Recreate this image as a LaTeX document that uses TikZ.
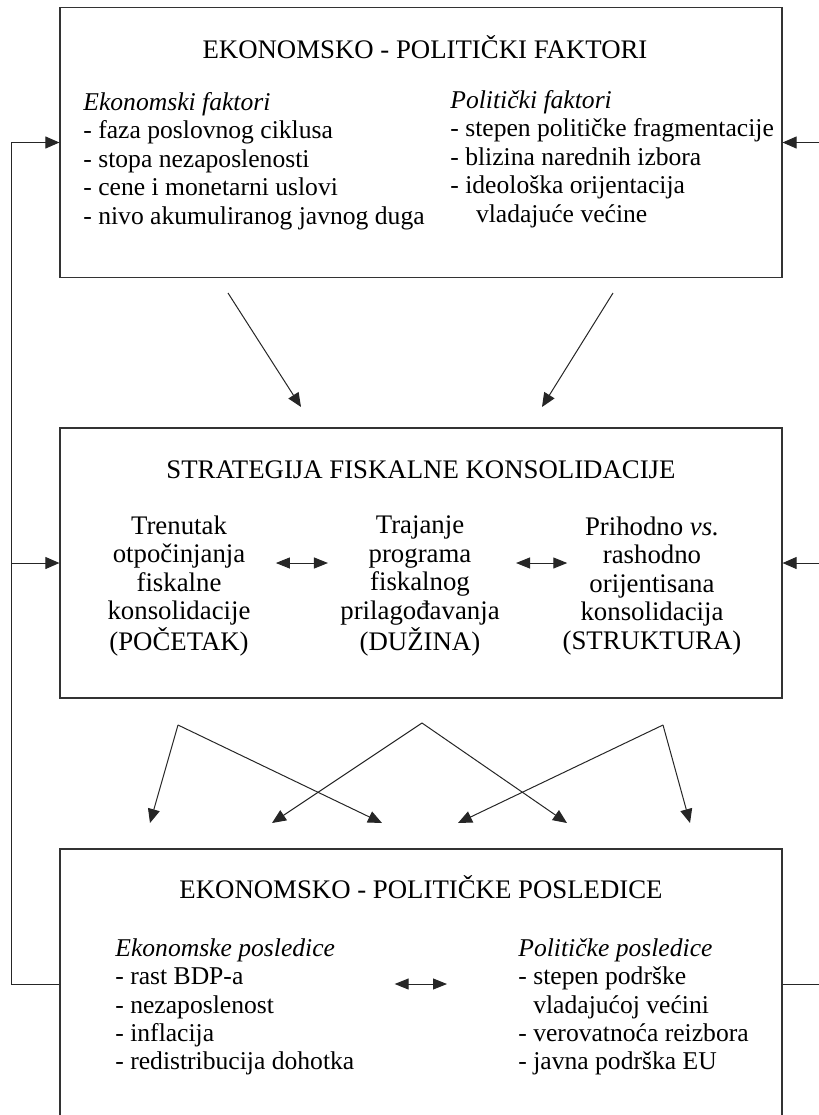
\documentclass[tikz,border=0pt]{standalone}
\usepackage{fontspec}
\setmainfont{Liberation Serif}
\usetikzlibrary{arrows.meta}

\begin{document}
\begin{tikzpicture}[x=0.5pt, y=-0.5pt,
  box/.style={draw=black!80, line width=0.6pt, minimum width=361pt, minimum height=135pt, inner sep=0pt},
  ttl/.style={anchor=base, inner sep=0pt, font=\fontsize{13.4}{14.2}\selectfont},
  lst/.style={align=left, anchor=west, inner sep=0pt, font=\fontsize{12.8}{14.2}\selectfont},
  col/.style={align=center, inner sep=0pt, font=\fontsize{13.4}{14.25}\selectfont},
  arr/.style={-{Triangle[length=7pt,width=6pt]}, draw=black!85, line width=0.5pt},
  dbl/.style={{Triangle[length=7pt,width=5.5pt]}-{Triangle[length=7pt,width=5.5pt]}, draw=black!85, line width=0.5pt}]

  \clip (0,0) rectangle (819,1115);

  \node[box] (top) at (421,142.5) {};
  \node[box] (mid) at (421,563) {};
  \node[box] (bot) at (421,984) {};

  \node[ttl] (toptitle) at (425,58) {EKONOMSKO - POLITIČKI FAKTORI};
  \node[lst] (tl) at (83,161) {\textit{Ekonomski faktori}\\- faza poslovnog ciklusa\\- stopa nezaposlenosti\\- cene i monetarni uslovi\\- nivo akumuliranog javnog duga};
  \node[lst] (tr) at (450,159) {\textit{Politički faktori}\\- stepen političke fragmentacije\\- blizina narednih izbora\\- ideološka orijentacija\\\hspace*{1em}vladajuće većine};

  \node[ttl] (midtitle) at (421,478) {STRATEGIJA FISKALNE KONSOLIDACIJE};
  \node[col] (c1) at (179,586) {Trenutak\\otpočinjanja\\fiskalne\\konsolidacije\\(POČETAK)};
  \node[col] (c2) at (420,586) {Trajanje\\programa\\fiskalnog\\prilagođavanja\\(DUŽINA)};
  \node[col] (c3) at (652,586) {Prihodno \textit{vs.}\\rashodno\\orijentisana\\konsolidacija\\(STRUKTURA)};

  \node[ttl] (bottitle) at (421,898) {EKONOMSKO - POLITIČKE POSLEDICE};
  \node[lst] (bl) at (115,1007) {\textit{Ekonomske posledice}\\- rast BDP-a\\- nezaposlenost\\- inflacija\\- redistribucija dohotka};
  \node[lst] (br) at (518,1007) {\textit{Političke posledice}\\- stepen podrške\\\phantom{-}~vladajućoj većini\\- verovatnoća reizbora\\- javna podrška EU};

  \draw[dbl, shorten <=12.5pt, shorten >=6pt] (c1.east |- mid.center) -- (c2.west |- mid.center);
  \draw[dbl, shorten <=8pt, shorten >=-2.5pt] (c2.east |- mid.center) -- (c3.west |- mid.center);
  \draw[dbl, shorten <=20pt, shorten >=35.5pt] (bl.east |- bot.center) -- (br.west |- bot.center);

  % faktori -> strategija
  \coordinate (ek) at (228,293);
  \coordinate (po) at (613,293);
  \coordinate (ek') at (301,407);
  \coordinate (po') at (542,407);
  \draw[arr] (ek) -- (ek');
  \draw[arr] (po) -- (po');

  % strategija -> posledice
  \coordinate (poc) at (178,725);
  \coordinate (duz) at (422,723);
  \coordinate (str) at (663,725);
  \coordinate (e1) at (150,823);
  \coordinate (e2) at (272,823);
  \coordinate (e3) at (382,823);
  \coordinate (e4) at (458,823);
  \coordinate (e5) at (567,823);
  \coordinate (e6) at (690,823);
  \draw[arr] (poc) -- (e1);
  \draw[arr] (poc) -- (e3);
  \draw[arr] (duz) -- (e2);
  \draw[arr] (duz) -- (e5);
  \draw[arr] (str) -- (e4);
  \draw[arr] (str) -- (e6);

  % povratna veza
  \coordinate (lb) at ([xshift=-24pt]bot.west);
  \coordinate (rb) at ([xshift=24pt]bot.east);
  \draw[arr] (bot.west) -- (lb) |- (top.west);
  \draw[arr] (lb |- mid.west) -- (mid.west);
  \draw[arr] (bot.east) -- (rb) |- (top.east);
  \draw[arr] (rb |- mid.east) -- (mid.east);

\end{tikzpicture}
\end{document}
